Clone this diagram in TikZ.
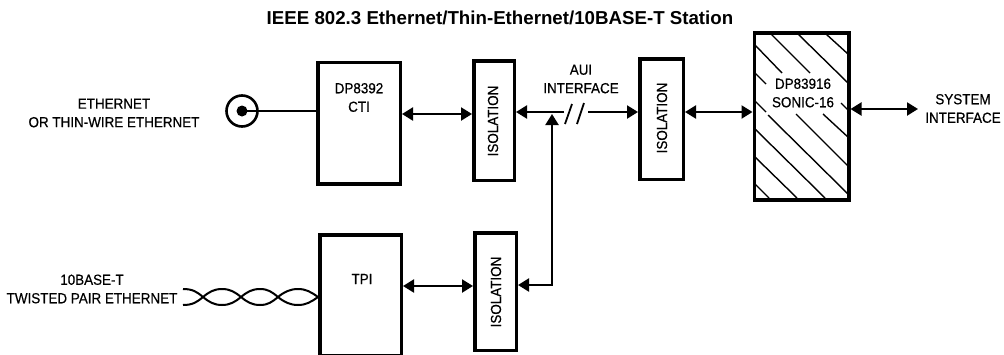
\documentclass[tikz,border=0pt]{standalone}
\usepackage{fontspec}
\setmainfont{Liberation Sans}
\usetikzlibrary{arrows.meta}
\tikzset{
  x=1pt,y=-1pt,
  block/.style={draw,line width=3.5pt,inner sep=0pt,fill=white},
  lbl/.style={font=\fontsize{14.6}{18.5}\selectfont\addfontfeature{FakeBold=0.5,FakeStretch=0.92},align=center,inner sep=0pt},
  wire/.style={line width=2.2pt},
  tip/.tip={Triangle[length=11pt,width=13pt]},
  dbl/.style={wire,tip-tip},
  sgl/.style={wire,-tip},
  hatch/.style={line width=1.4pt},
  tw/.style={line width=2pt}
}
\begin{document}
\begin{tikzpicture}
\useasboundingbox (0,0) rectangle (1004,354);
% blocks
\node[block,minimum width=82.5pt,minimum height=121.5pt] (cti) at (359,123) {};
\node[block,minimum width=40.5pt,minimum height=119.5pt] (iso1) at (494,120.5) {};
\node[block,minimum width=43.5pt,minimum height=120.5pt] (iso2) at (661.5,119) {};
\node[block,minimum width=94.5pt,minimum height=167pt] (sonic) at (801.5,116.25) {};
\node[block,minimum width=81.5pt,minimum height=120.5pt] (tpi) at (360.5,295) {};
\node[block,minimum width=41.5pt,minimum height=117.5pt] (iso3) at (495.5,291.5) {};
% hatching
\foreach \a/\b/\c/\d in {
  771/34/810/73, 798/34/848/83, 826/34/848/54,
  755/45/782/73, 755/73/766/84, 755/101/766/112,
  768/115/849/195, 796/114/849/167, 823/114/849/138, 841/103/849/111,
  755/129/825/198, 755/157/797/198, 755/184/769/198}{
  \draw[hatch] (\a,\b) -- (\c,\d);
}
% coax
\node[circle,draw,line width=2.6pt,minimum size=31pt,inner sep=0pt] (coax) at (242,111) {};
\node[circle,fill=black,minimum size=11pt,inner sep=0pt] (coaxc) at (242,111) {};
\draw[wire] (coaxc.center) -- (cti.west |- coaxc);
% arrows
\draw[dbl] (cti.east |- 0,114) -- (iso1.west |- 0,114);
\draw[dbl] (iso2.east |- 0,112) -- (sonic.west |- 0,112);
\coordinate (sysend) at (918,109);
\draw[dbl] (sonic.east |- sysend) -- (sysend);
\draw[dbl] (tpi.east |- 0,286) -- (iso3.west |- 0,286);
% AUI bus
\coordinate (bk) at (564,112);
\coordinate (fw) at (588,112);
\draw[sgl] (bk) -- (iso1.east |- bk);
\draw[sgl] (fw) -- (iso2.west |- fw);
\coordinate (bend) at (552,285);
\coordinate (top) at (552,114);
\draw[dbl] (iso3.east |- bend) -- (bend) -- (top);
% break marks
\coordinate (s1a) at (565,124); \coordinate (s1b) at (572,104);
\coordinate (s2a) at (577,124); \coordinate (s2b) at (584,103);
\draw[wire,line width=1.8pt] (s1a) -- (s1b);
\draw[wire,line width=1.8pt] (s2a) -- (s2b);
% twisted pair
\coordinate (twend) at (tpi.west |- 0,297);
\draw[tw] (183,289) .. controls (193,289) and (197,292) .. (203,297)
  .. controls (209,302) and (214,305) .. (222,305)
  .. controls (230,305) and (235,302) .. (241,297)
  .. controls (247,292) and (252,289) .. (260,289)
  .. controls (268,289) and (272,292) .. (278,297)
  .. controls (284,302) and (290,305) .. (298,305)
  .. controls (306,305) and (311,302) .. (twend);
\draw[tw] (183,305) .. controls (193,305) and (197,302) .. (203,297)
  .. controls (209,292) and (214,289) .. (222,289)
  .. controls (230,289) and (235,292) .. (241,297)
  .. controls (247,302) and (252,305) .. (260,305)
  .. controls (268,305) and (272,302) .. (278,297)
  .. controls (284,292) and (290,289) .. (298,289)
  .. controls (306,289) and (311,292) .. (twend);
% text
\node[font=\bfseries\fontsize{18.7}{22}\selectfont,inner sep=0pt,anchor=center] (title) at (500,18) {IEEE 802.3 Ethernet/Thin-Ethernet/10BASE-T Station};
\node[lbl] (l1) at (114,113) {ETHERNET\\OR THIN-WIRE ETHERNET};
\node[lbl] (l2) at (92,289) {10BASE-T\\TWISTED PAIR ETHERNET};
\node[lbl] (l3) at (359,97.5) {DP8392\\CTI};
\node[lbl] (l4) at (362,279) {TPI};
\node[lbl] (l5) at (581,79) {AUI\\INTERFACE};
\node[lbl] (l6) at (803,93) {DP83916\\SONIC-16};
\node[lbl] (l7) at (963,108.5) {SYSTEM\\INTERFACE};
\node[lbl,rotate=90] (i1) at (493,121) {ISOLATION};
\node[lbl,rotate=90] (i2) at (662,118) {ISOLATION};
\node[lbl,rotate=90] (i3) at (496,292) {ISOLATION};
\end{tikzpicture}
\end{document}
